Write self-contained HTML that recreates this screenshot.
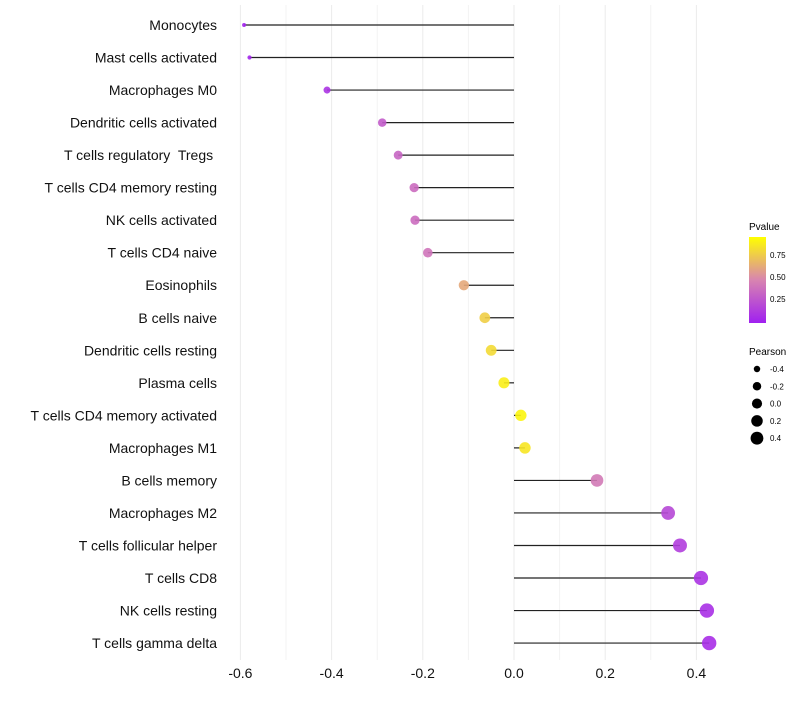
<!DOCTYPE html>
<html><head><meta charset="utf-8"><style>
body{margin:0;background:#fff;font-family:"Liberation Sans",sans-serif;}
text{white-space:pre;}
</style></head><body>
<svg id="chart" width="800" height="700" xmlns="http://www.w3.org/2000/svg" font-family="Liberation Sans, sans-serif">
<defs><linearGradient id="pg" x1="0" y1="1" x2="0" y2="0">
<stop offset="0" stop-color="#a020f0"/><stop offset="0.5" stop-color="#d884b0"/><stop offset="1" stop-color="#ffff00"/></linearGradient></defs>
<g id="grid"></g><g id="marks"></g><g id="labels"></g>
<g>
<text x="749" y="230" font-size="10">Pvalue</text>
<rect x="749" y="237" width="17" height="86" fill="url(#pg)"/>
<text x="770" y="258" font-size="8">0.75</text>
<text x="770" y="280" font-size="8">0.50</text>
<text x="770" y="302" font-size="8">0.25</text>
<text x="749" y="355" font-size="10">Pearson</text>
<g id="sizeleg"></g>
</g>
</svg>
<script>
const categories=["Monocytes","Mast cells activated","Macrophages M0","Dendritic cells activated","T cells regulatory  Tregs ","T cells CD4 memory resting","NK cells activated","T cells CD4 naive","Eosinophils","B cells naive","Dendritic cells resting","Plasma cells","T cells CD4 memory activated","Macrophages M1","B cells memory","Macrophages M2","T cells follicular helper","T cells CD8","NK cells resting","T cells gamma delta"];
const pearson=[-0.592,-0.58,-0.41,-0.289,-0.254,-0.219,-0.217,-0.189,-0.11,-0.064,-0.05,-0.022,0.015,0.024,0.182,0.338,0.364,0.41,0.423,0.428];
const pvalues=[0.02,0.03,0.1,0.3,0.35,0.38,0.38,0.42,0.65,0.8,0.85,0.93,0.96,0.9,0.45,0.2,0.15,0.1,0.08,0.07];
const xTicks=[-0.6,-0.4,-0.2,0.0,0.2,0.4];
const sizeLegend=[-0.4,-0.2,0.0,0.2,0.4];
const NS="http://www.w3.org/2000/svg";
const x=v=>514+v*456;
const y=i=>25+i*32.53;
const r=v=>Math.sqrt(Math.max(2,31.7+47*v));
function col(p){const s=[[160,32,240],[216,132,176],[255,255,0]];let t=p*2,k=t<1?0:1;t=t-k;const a=s[k],b=s[k+1];return `rgb(${a.map((c,j)=>Math.round(c+(b[j]-c)*t)).join(",")})`;}
function mk(tag,at,parent){const e=document.createElementNS(NS,tag);for(const k in at)e.setAttribute(k,at[k]);parent.appendChild(e);return e;}
const grid=document.getElementById('grid'),marks=document.getElementById('marks'),labels=document.getElementById('labels');
for(let v=-0.6;v<=0.41;v+=0.1){const g=mk('line',{x1:x(v),x2:x(v),y1:5,y2:660,stroke:Math.abs(Math.round(v*10))%2===0?'#ebebeb':'#f3f3f3','stroke-width':1},grid);

}
xTicks.forEach(v=>{const t=mk('text',{x:x(v),y:678,'font-size':14,'text-anchor':'middle',fill:'#111'},labels);t.textContent=v.toFixed(1);

});
categories.forEach((c,i)=>{const t=mk('text',{x:217,y:y(i)+5,'font-size':14,'text-anchor':'end',fill:'#111'},labels);t.textContent=c;


const ln=mk('line',{x1:x(0),x2:x(pearson[i]),y1:y(i),y2:y(i),stroke:'#222','stroke-width':1.2},marks);


const d=mk('circle',{cx:x(pearson[i]),cy:y(i),r:r(pearson[i]),fill:col(pvalues[i]),'fill-opacity':0.9},marks);

});
const sl=document.getElementById('sizeleg');
sizeLegend.forEach((v,i)=>{const cy=369+i*17.3;const c=mk('circle',{cx:757,cy:cy,r:r(v)*0.9,fill:'#000'},sl);


const t=mk('text',{x:770,y:cy+3,'font-size':8},sl);t.textContent=v.toFixed(1);

});
</script>
</body></html>
